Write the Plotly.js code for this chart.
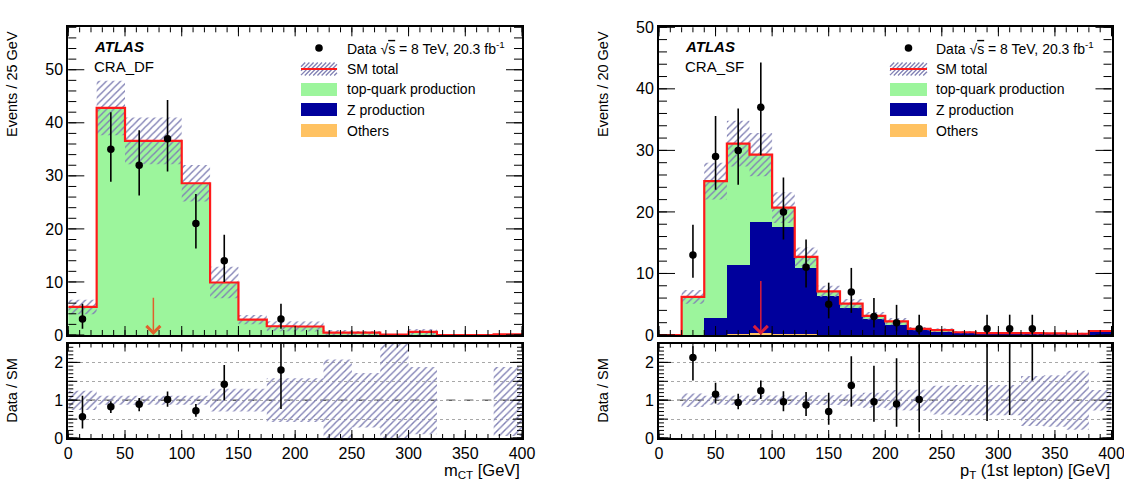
<!DOCTYPE html>
<html><head><meta charset="utf-8">
<script src="https://cdn.plot.ly/plotly-3.0.1.min.js"></script>
<style>html,body{margin:0;padding:0;background:#fff}#chart{width:1124px;height:486px}</style>
</head><body><div id="chart"></div>
<script>
// ================= DATA =================
// Left panel: m_CT, 25 GeV bins
const mctBinWidth = 25;
const mctCenters = [12.5,37.5,62.5,87.5,112.5,137.5,162.5,187.5,212.5,237.5,262.5,287.5,312.5,337.5,362.5,387.5];
const mctTop    = [5.3,42.8,36.6,36.6,28.6,9.9,2.9,1.65,1.6,0.45,0.45,0.08,0.6,0,0,0.1];
const mctZ      = [0,0,0,0,0,0,0,0,0,0,0,0,0,0,0,0];
const mctOthers = [0,0,0,0,0,0,0,0,0,0,0,0,0,0,0,0];
const mctBandLo = [0.74,0.88,0.88,0.88,0.88,0.70,0.70,0.42,0.42,0.0,0.28,0.0,0.10,null,null,0.05];
const mctBandHi = [1.25,1.12,1.12,1.12,1.12,1.30,1.30,1.58,1.58,2.08,1.72,2.60,1.88,null,null,1.88];
const mctDataX  = [12.5,37.5,62.5,87.5,112.5,137.5,187.5];
const mctData   = [3,35,32,37,21,14,3];
const mctDataHi = [5.9,42,38.6,44.3,26.6,18.9,5.9];
const mctDataLo = [1.2,28.9,26.3,30.8,16.3,10,1.2];
const mctRatio   = [0.56,0.83,0.89,1.02,0.72,1.42,1.80];
const mctRatioHi = [1.12,0.97,1.06,1.23,0.90,1.93,2.60];
const mctRatioLo = [0.25,0.66,0.71,0.83,0.56,1.00,0.77];
const mctCut = 75, mctCutArrowTop = 7.3;

// Right panel: pT(1st lepton), 20 GeV bins
const ptBinWidth = 20;
const ptCenters = [10,30,50,70,90,110,130,150,170,190,210,230,250,270,290,310,330,350,370,390];
const ptTop    = [0,6.2,22.2,19.7,11.0,3.2,1.8,0.8,0.7,0.5,0.5,0.25,0.3,0.15,0.1,0.1,0.1,0.08,0.07,0.2];
const ptZ      = [0,0,2.8,11.3,17.9,17.4,10.8,6.3,4.4,2.6,1.7,0.75,0.5,0.3,0.2,0.2,0.2,0.17,0.13,0.45];
const ptOthers = [0,0,0,0.1,0.4,0.1,0.1,0,0,0,0,0,0,0,0,0,0,0,0,0];
const ptBandLo = [null,0.82,0.88,0.88,0.88,0.88,0.88,0.87,0.85,0.80,0.74,0.72,0.62,0.60,0.60,0.60,0.32,0.30,0.22,0.73];
const ptBandHi = [null,1.18,1.12,1.12,1.12,1.12,1.12,1.13,1.15,1.20,1.26,1.28,1.38,1.40,1.40,1.40,1.64,1.66,1.78,1.27];
const ptDataX  = [30,50,70,90,110,130,150,170,190,210,230,290,310,330];
const ptData   = [13,29,30,37,20,11,5,7,3,2,1,1,1,1];
const ptDataHi = [17.9,35.6,36.8,44.3,25.6,15.5,8.5,10.9,6,4.9,3.3,3.3,3.3,3.3];
const ptDataLo = [9.3,23.6,24.4,29.2,15.5,7.7,2.7,3.6,1.2,0.6,0.17,0.17,0.17,0.17];
const ptRatio   = [2.13,1.16,0.94,1.25,0.96,0.87,0.70,1.39,0.96,0.90,1.02,3.3,3.3,3.3];
const ptRatioHi = [2.43,1.46,1.17,1.52,1.24,1.22,1.20,2.16,1.91,2.11,2.48,6,6,6];
const ptRatioLo = [1.52,0.91,0.76,1.03,0.71,0.58,0.35,0.83,0.43,0.30,0.15,0.45,0.61,1.52];
const ptCut = 90, ptCutArrowTop = 9.0;

const legendLabels = ['Data \u221A<span style="text-decoration:overline">s</span> = 8 TeV, 20.3 fb<sup>-1</sup>','SM total','top-quark production','Z production','Others'];

// ================= STYLE =================
const FONT = 'Liberation Sans, Arial, Helvetica, sans-serif';
const C_TOP = '#9cf59c', C_Z = '#00009c', C_OTH = '#ffc262', C_RED = '#ff1a1a';
const HATCH_COL = '#8080b4';
const HATCH = {shape:'/', fgcolor:HATCH_COL, bgcolor:'rgba(0,0,0,0)', size:5, solidity:0.28};
const W = 1124, H = 486;
const px = v => v / W, py = v => 1 - v / H;
const LX = [px(68.3), px(522)], RX = [px(659), px(1111.5)];
const MAIN_Y = [py(335), py(27.3)], RAT_Y = [py(438), py(343.5)];
const X_RANGE = [0,400], YL_RANGE = [0,58], YR_RANGE = [0,50], RAT_RANGE = [0,2.5];

// ================= HELPERS =================
const sum3 = (a,b,c) => a.map((v,i)=>v+b[i]+c[i]);
function stepXY(centers, w, vals){
  const x = centers.map(c=>c-w/2); x.push(centers[centers.length-1]+w/2);
  const y = vals.slice(); y.push(vals[vals.length-1]);
  return {x,y};
}
function bandPoly(centers, w, lo, hi, scale){
  const X=[], Y=[]; let up=[], dn=[];
  const flush=()=>{ if(up.length){ const pts = up.concat(dn.reverse());
      if(X.length){X.push(null);Y.push(null);} pts.forEach(p=>{X.push(p[0]);Y.push(p[1]);}); }
    up=[]; dn=[]; };
  for(let i=0;i<centers.length;i++){
    if(lo[i]==null){flush();continue;}
    const s = scale ? scale[i] : 1, a=centers[i]-w/2, b=centers[i]+w/2;
    up.push([a,hi[i]*s],[b,hi[i]*s]); dn.push([a,lo[i]*s],[b,lo[i]*s]);
  }
  flush(); return {x:X,y:Y};
}
const diff = (a,b)=>a.map((v,i)=>v-b[i]);

function panelTraces(o){
  const tr=[]; const sm = sum3(o.top,o.z,o.oth);
  [[o.oth,C_OTH],[o.z,C_Z],[o.top,C_TOP]].forEach(([v,c])=>tr.push({type:'bar',x:o.centers,y:v,width:o.w,
    marker:{color:c,line:{width:0}},xaxis:o.xa,yaxis:o.ya,showlegend:false,hoverinfo:'skip'}));
  const b = bandPoly(o.centers,o.w,o.lo,o.hi,sm);
  tr.push({type:'scatter',mode:'lines',x:b.x,y:b.y,fill:'toself',fillcolor:'rgba(0,0,0,0)',fillpattern:HATCH,
    line:{width:0,color:'rgba(0,0,0,0)'},xaxis:o.xa,yaxis:o.ya,showlegend:false,hoverinfo:'skip'});
  const s = stepXY(o.centers,o.w,sm);
  tr.push({type:'scatter',mode:'lines',x:s.x,y:s.y,line:{shape:'hv',color:C_RED,width:2.2},xaxis:o.xa,yaxis:o.ya,showlegend:false,hoverinfo:'skip'});
  tr.push({type:'scatter',mode:'markers',x:o.dx,y:o.d,marker:{color:'#000',size:7.5},
    error_y:{type:'data',symmetric:false,array:diff(o.dhi,o.d),arrayminus:diff(o.d,o.dlo),color:'#000',thickness:1.6,width:0},
    xaxis:o.xa,yaxis:o.ya,showlegend:false,hoverinfo:'skip'});
  const rb = bandPoly(o.centers,o.w,o.lo,o.hi,null);
  tr.push({type:'scatter',mode:'lines',x:rb.x,y:rb.y,fill:'toself',fillcolor:'rgba(0,0,0,0)',fillpattern:HATCH,
    line:{width:0,color:'rgba(0,0,0,0)'},xaxis:o.xr,yaxis:o.yr,showlegend:false,hoverinfo:'skip'});
  tr.push({type:'scatter',mode:'markers',x:o.dx,y:o.r,marker:{color:'#000',size:7.5},
    error_y:{type:'data',symmetric:false,array:diff(o.rhi,o.r),arrayminus:diff(o.r,o.rlo),color:'#000',thickness:1.6,width:0},
    xaxis:o.xr,yaxis:o.yr,showlegend:false,hoverinfo:'skip'});
  return tr;
}
const traces = [].concat(
  panelTraces({centers:mctCenters,w:mctBinWidth,top:mctTop,z:mctZ,oth:mctOthers,lo:mctBandLo,hi:mctBandHi,
    dx:mctDataX,d:mctData,dhi:mctDataHi,dlo:mctDataLo,r:mctRatio,rhi:mctRatioHi,rlo:mctRatioLo,xa:'x',ya:'y',xr:'x2',yr:'y2'}),
  panelTraces({centers:ptCenters,w:ptBinWidth,top:ptTop,z:ptZ,oth:ptOthers,lo:ptBandLo,hi:ptBandHi,
    dx:ptDataX,d:ptData,dhi:ptDataHi,dlo:ptDataLo,r:ptRatio,rhi:ptRatioHi,rlo:ptRatioLo,xa:'x3',ya:'y3',xr:'x4',yr:'y4'})
);

// ---- ROOT-style inside ticks on all four sides (one path shape per frame) ----
function frameTicks(xd, yd, xr, yr, xSteps, ySteps){
  let d='';
  const f=v=>v.toFixed(6);
  xSteps.forEach(([step,len])=>{
    for(let v=xr[0]; v<=xr[1]+1e-9; v+=step){
      const X = xd[0] + (v-xr[0])/(xr[1]-xr[0])*(xd[1]-xd[0]);
      d += `M${f(X)},${f(yd[0])}L${f(X)},${f(yd[0]+len/H)}M${f(X)},${f(yd[1])}L${f(X)},${f(yd[1]-len/H)}`;
    }
  });
  ySteps.forEach(([step,len])=>{
    for(let v=yr[0]; v<=yr[1]+1e-9; v+=step){
      const Y = yd[0] + (v-yr[0])/(yr[1]-yr[0])*(yd[1]-yd[0]);
      d += `M${f(xd[0])},${f(Y)}L${f(xd[0]+len/W)},${f(Y)}M${f(xd[1])},${f(Y)}L${f(xd[1]-len/W)},${f(Y)}`;
    }
  });
  return {type:'path',xref:'paper',yref:'paper',path:d,line:{color:'#000',width:1},layer:'above'};
}
const tickShapes = [
  frameTicks(LX, MAIN_Y, X_RANGE, YL_RANGE, [[50,9],[10,5]], [[10,16],[2,8]]),
  frameTicks(RX, MAIN_Y, X_RANGE, YR_RANGE, [[50,9],[10,5]], [[10,16],[2,8]]),
  frameTicks(LX, RAT_Y, X_RANGE, RAT_RANGE, [[50,8],[10,4]], [[1,12],[0.5,9],[0.1,5]]),
  frameTicks(RX, RAT_Y, X_RANGE, RAT_RANGE, [[50,8],[10,4]], [[1,12],[0.5,9],[0.1,5]])
];

// ---- legend ----
const legendRows = [48,69,89.5,109.5,130.5];
function legendShapes(x0,x1){
  const sh=[], hh=6.5; const cx=(x0+x1)/2, r0=legendRows[0], rd=3.8;
  sh.push({type:'circle',xref:'paper',yref:'paper',x0:px(cx-rd),x1:px(cx+rd),y0:py(r0+rd),y1:py(r0-rd),fillcolor:'#000',line:{width:0}});
  const r=legendRows[1], yT=r-hh, yB=r+hh, h=yB-yT;
  for(let x=x0-h; x<x1; x+=4.2){ const sx=Math.max(x,x0), ex=Math.min(x+h,x1); if(ex<=sx) continue;
    sh.push({type:'line',xref:'paper',yref:'paper',x0:px(sx),y0:py(yB-(sx-x)),x1:px(ex),y1:py(yB-(ex-x)),line:{color:HATCH_COL,width:1.3}}); }
  sh.push({type:'line',xref:'paper',yref:'paper',x0:px(x0),x1:px(x1),y0:py(r),y1:py(r),line:{color:C_RED,width:2.2}});
  [[2,C_TOP],[3,C_Z],[4,C_OTH]].forEach(([k,c])=>sh.push({type:'rect',xref:'paper',yref:'paper',x0:px(x0),x1:px(x1),
    y0:py(legendRows[k]+hh),y1:py(legendRows[k]-hh),fillcolor:c,line:{width:0}}));
  return sh;
}
function legendText(x){ return legendLabels.map((s,i)=>({xref:'paper',yref:'paper',x:px(x),y:py(legendRows[i]),xanchor:'left',yanchor:'middle',
    text:s,showarrow:false,font:{family:FONT,size:14,color:'#000'}})); }

// ================= AXES =================
const tickFont = {family:FONT,size:16,color:'#000'};
function xAxis(domain, anchor, labels){
  return {domain, anchor, range:X_RANGE, tickmode:'linear', tick0:0, dtick:50, ticks:'',
    showline:true, mirror:true, linewidth:2, linecolor:'#000', showgrid:false, zeroline:false,
    showticklabels:labels, tickfont:tickFont, ticklabeloverflow:'allow', fixedrange:true};
}
function yMain(domain, anchor, rng){
  return {domain, anchor, range:rng, tickmode:'linear', tick0:0, dtick:10, ticks:'',
    showline:true, mirror:true, linewidth:2, linecolor:'#000', showgrid:false, zeroline:false, tickfont:tickFont, fixedrange:true};
}
function yRatio(domain, anchor){
  return {domain, anchor, range:RAT_RANGE, tickmode:'linear', tick0:0, dtick:1, ticks:'',
    minor:{tickmode:'linear', tick0:0, dtick:0.5, ticks:'', showgrid:true, gridcolor:'#a8a8a8', griddash:'dot', gridwidth:1},
    showline:true, mirror:true, linewidth:2, linecolor:'#000',
    showgrid:true, gridcolor:'#a8a8a8', griddash:'dot', gridwidth:1, zeroline:false, tickfont:tickFont, fixedrange:true};
}

const annFont = {family:FONT,size:14.5,color:'#000'}, xtFont = {family:FONT,size:16.5,color:'#000'}, atlFont = {family:FONT,size:15,color:'#000'};
const annotations = [
  {xref:'paper',yref:'paper',x:px(12),y:py(29),xanchor:'center',yanchor:'top',textangle:-90,text:'Events / 25 GeV',showarrow:false,font:annFont},
  {xref:'paper',yref:'paper',x:px(12),y:(RAT_Y[0]+RAT_Y[1])/2,xanchor:'center',yanchor:'middle',textangle:-90,text:'Data / SM',showarrow:false,font:annFont},
  {xref:'paper',yref:'paper',x:px(603),y:py(29),xanchor:'center',yanchor:'top',textangle:-90,text:'Events / 20 GeV',showarrow:false,font:annFont},
  {xref:'paper',yref:'paper',x:px(603),y:(RAT_Y[0]+RAT_Y[1])/2,xanchor:'center',yanchor:'middle',textangle:-90,text:'Data / SM',showarrow:false,font:annFont},
  {xref:'paper',yref:'paper',x:px(522),y:py(471),xanchor:'right',yanchor:'middle',text:'m<sub>CT</sub> [GeV]',showarrow:false,font:xtFont},
  {xref:'paper',yref:'paper',x:px(1112),y:py(471),xanchor:'right',yanchor:'middle',text:'p<sub>T</sub> (1st lepton) [GeV]',showarrow:false,font:xtFont},
  {xref:'paper',yref:'paper',x:px(92),y:py(46),xanchor:'left',yanchor:'middle',text:'<b><i>ATLAS</i></b>',showarrow:false,font:atlFont},
  {xref:'paper',yref:'paper',x:px(92),y:py(67),xanchor:'left',yanchor:'middle',text:'CRA_DF',showarrow:false,font:atlFont},
  {xref:'paper',yref:'paper',x:px(683),y:py(46),xanchor:'left',yanchor:'middle',text:'<b><i>ATLAS</i></b>',showarrow:false,font:atlFont},
  {xref:'paper',yref:'paper',x:px(683),y:py(67),xanchor:'left',yanchor:'middle',text:'CRA_SF',showarrow:false,font:atlFont},
  {xref:'x',yref:'y',axref:'x',ayref:'y',x:mctCut,y:0,ax:mctCut,ay:mctCutArrowTop,text:'',showarrow:true,arrowhead:4,arrowsize:1.8,arrowwidth:1.5,arrowcolor:'#e0602c',standoff:0},
  {xref:'x3',yref:'y3',axref:'x3',ayref:'y3',x:ptCut,y:0,ax:ptCut,ay:ptCutArrowTop,text:'',showarrow:true,arrowhead:4,arrowsize:1.8,arrowwidth:1.5,arrowcolor:'#d81e3c',standoff:0}
].concat(legendText(345), legendText(934));

const shapes = [
  {type:'line',xref:'x2 domain',yref:'y2',x0:0,x1:1,y0:1,y1:1,line:{color:'#606060',width:1.6,dash:'dash'},layer:'below'},
  {type:'line',xref:'x4 domain',yref:'y4',x0:0,x1:1,y0:1,y1:1,line:{color:'#606060',width:1.6,dash:'dash'},layer:'below'}
].concat(tickShapes, legendShapes(301,337), legendShapes(890,927));

const layout = {
  width:W, height:H, margin:{l:0,r:0,t:0,b:0}, paper_bgcolor:'#fff', plot_bgcolor:'#fff',
  barmode:'stack', showlegend:false, font:{family:FONT,size:14,color:'#000'},
  xaxis: xAxis(LX,'y',false), yaxis: yMain(MAIN_Y,'x',YL_RANGE),
  xaxis2: xAxis(LX,'y2',true), yaxis2: yRatio(RAT_Y,'x2'),
  xaxis3: xAxis(RX,'y3',false), yaxis3: yMain(MAIN_Y,'x3',YR_RANGE),
  xaxis4: xAxis(RX,'y4',true), yaxis4: yRatio(RAT_Y,'x4'),
  annotations, shapes
};
Plotly.newPlot('chart', traces, layout, {staticPlot:true, displayModeBar:false});
</script></body></html>
